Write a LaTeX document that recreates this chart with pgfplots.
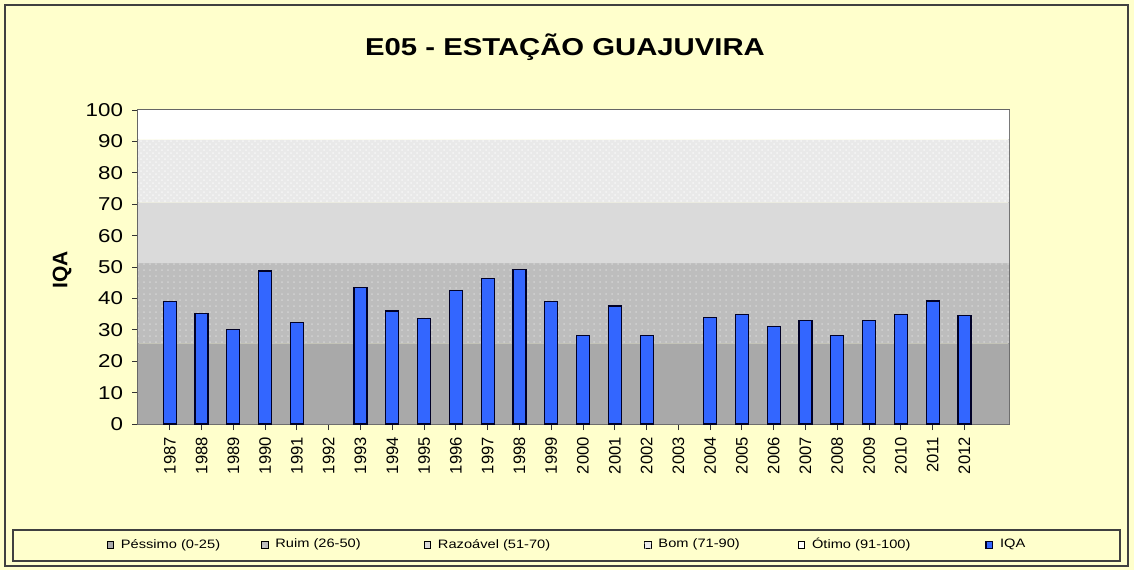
\documentclass[border=0pt]{standalone}
\usepackage{pgfplots}
\pgfplotsset{compat=1.18}
\usetikzlibrary{patterns}
\usepackage{fontspec}
\setmainfont{Liberation Sans}[FakeStretch=1.2]
\newfontfamily\yearfont{Liberation Sans}
\definecolor{bgy}{HTML}{FFFFCC}
\definecolor{cpes}{HTML}{A9A9A9}
\definecolor{crui}{HTML}{BDBDBD}
\definecolor{cruid}{HTML}{D2D2D2}
\definecolor{craz}{HTML}{DADADA}
\definecolor{cbom}{HTML}{E9E9E9}
\definecolor{cbomd}{HTML}{F6F6F6}
\definecolor{coti}{HTML}{FFFFFF}
\definecolor{iqa}{HTML}{3366FF}
\begin{document}
\begin{tikzpicture}
\useasboundingbox (0,0) rectangle (567pt,285pt);
\fill[bgy] (0,0) rectangle (567pt,285pt);
\draw[black!75, line width=1pt] (2.5pt,2pt) rectangle (564pt,282.5pt);
\node[font=\bfseries\fontsize{12.2}{14}\selectfont] at (282.5pt,261.5pt) {E05 - ESTAÇÃO GUAJUVIRA};
\node[font=\yearfont\bfseries\fontsize{10.5}{12}\selectfont, rotate=90] at (31pt,150pt) {IQA};
\draw[black!75, line width=0.6pt] (6.5pt,4.5pt) rectangle (560pt,20pt);
\begin{axis}[
  at={(69pt,73pt)}, anchor=south west,
  scale only axis, width=435.5pt, height=157pt,
  xmin=1986, xmax=2013.4, ymin=0, ymax=100,
  xtick={1987,...,2012}, ytick={0,10,...,100},
  xtick pos=bottom, ytick pos=left, tick align=outside,
  major tick length=3pt,
  tick style={black!80, line width=0.5pt},
  axis line style={black!60, line width=0.7pt},
  /pgf/number format/assume math mode=true,
  /pgf/number format/1000 sep={},
  yticklabel style={font=\fontsize{9.3}{10}\selectfont, xshift=-1pt},
  xticklabel style={rotate=90, anchor=east, font=\yearfont\fontsize{8.3}{9}\selectfont, yshift=0pt},
  legend columns=6,
  legend style={at={(0.4937,-0.3854)}, anchor=center, draw=none, fill=none,
    font=\fontsize{6.1}{8}\selectfont, column sep=1.5pt,
    /tikz/column 2/.style={column sep=18.5pt},
    /tikz/column 4/.style={column sep=29.5pt},
    /tikz/column 6/.style={column sep=45pt},
    /tikz/column 8/.style={column sep=27pt},
    /tikz/column 10/.style={column sep=35.5pt}},
  legend cell align=left,
  legend image code/.code={\filldraw[#1] (0pt,-1.6pt) rectangle (3.2pt,1.6pt);},
]
\addplot[fill=cpes, draw=none] coordinates {(1986,0) (2013.4,0) (2013.4,25.7) (1986,25.7) (1986,0)};
\addlegendentry{Péssimo (0-25)}
\addplot[fill=crui, draw=none, postaction={pattern=dots, pattern color=cruid}] coordinates {(1986,25.7) (2013.4,25.7) (2013.4,51.2) (1986,51.2) (1986,25.7)};
\addlegendentry{Ruim (26-50)}
\addplot[fill=craz, draw=none] coordinates {(1986,51.2) (2013.4,51.2) (2013.4,70.5) (1986,70.5) (1986,51.2)};
\addlegendentry{Razoável (51-70)}
\addplot[fill=cbom, draw=none, postaction={pattern=crosshatch dots, pattern color=cbomd}] coordinates {(1986,70.5) (2013.4,70.5) (2013.4,90.6) (1986,90.6) (1986,70.5)};
\addlegendentry{Bom (71-90)}
\addplot[fill=coti, draw=none] coordinates {(1986,90.6) (2013.4,90.6) (2013.4,100) (1986,100) (1986,90.6)};
\addlegendentry{Ótimo (91-100)}
\addplot[ybar, bar width=6.5pt, fill=iqa, draw=black!85!blue, line width=0.6pt] coordinates {
(1987,39.0) (1988,35.2) (1989,30.2) (1990,48.7) (1991,32.3)
(1993,43.4) (1994,36.0) (1995,33.5) (1996,42.4) (1997,46.3)
(1998,49.3) (1999,38.9) (2000,28.2) (2001,37.6) (2002,28.2)
(2004,33.8) (2005,35.0) (2006,31.1) (2007,32.9) (2008,28.2)
(2009,32.9) (2010,35.0) (2011,39.2) (2012,34.6)};
\addlegendentry{IQA}
\end{axis}
\end{tikzpicture}
\end{document}
